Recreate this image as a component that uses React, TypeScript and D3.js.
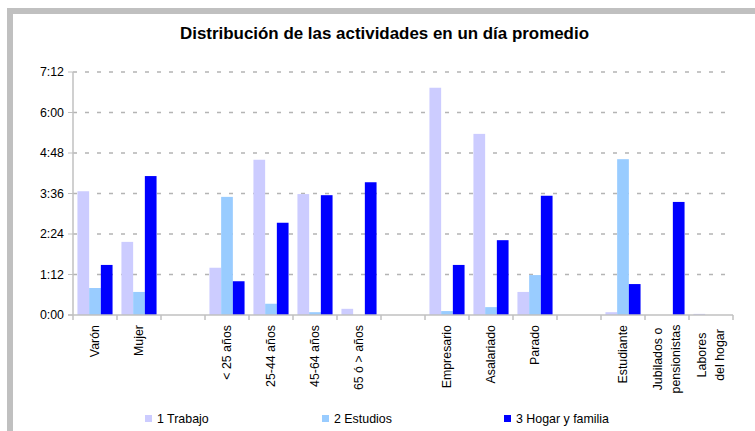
import React from "react";
import * as d3 from "d3";

const categories: string[][] = [
  ["Varón"], ["Mujer"], [""],
  ["< 25 años"], ["25-44 años"], ["45-64 años"], ["65 ó > años"], [""],
  ["Empresario"], ["Asalariado"], ["Parado"], [""],
  ["Estudiante"], ["Jubilados o", "pensionistas"], ["Labores", "del hogar"],
];
// minutes per day
const trabajo = [220, 130, 0, 84, 276, 215, 11, 0, 404, 322, 41, 0, 5, 0, 2];
const estudios = [48, 41, 0, 210, 20, 5, 0, 0, 7, 14, 71, 0, 277, 0, 0];
const hogar = [89, 247, 0, 60, 164, 213, 236, 0, 89, 133, 212, 0, 55, 201, 0];
const seriesNames = ["1 Trabajo", "2 Estudios", "3 Hogar y familia"];
const seriesColors = ["#CCCCFF", "#99CCFF", "#0000FF"];
const yTicks = [0, 72, 144, 216, 288, 360, 432];
const title = "Distribución de las actividades en un día promedio";

const W = 755, H = 431;
const left = 73, right = 733, top = 72, bottom = 315;

export default function App() {
  const series = [trabajo, estudios, hogar];
  const x = d3.scaleBand<number>().domain(categories.map((_, i) => i)).range([left, right]).padding(0);
  const xi = d3.scaleBand<number>().domain([0, 1, 2]).range([0, x.bandwidth()]).paddingInner(0).paddingOuter(0.38);
  const y = d3.scaleLinear().domain([0, 432]).range([bottom, top]);
  const fmt = (m: number) => `${Math.floor(m / 60)}:${String(m % 60).padStart(2, "0")}`;
  const font = "'Liberation Sans', Arial, sans-serif";
  const boundaries = d3.range(categories.length + 1).map((i) => left + i * x.step());
  const legendX = [145, 322, 504];
  const fs = 12.4;

  return (
    <svg width={W} height={H} style={{ position: "absolute", left: 0, top: 0 }} fontFamily={font}>
      <rect x={0} y={0} width={W} height={H} fill="#fff" />
      <rect x={7} y={8} width={W - 7} height={6} fill="#c0c0c0" />
      <rect x={7} y={8} width={6} height={H - 8} fill="#c0c0c0" />
      <text x={384.5} y={39} textAnchor="middle" fontSize={16.5} fontWeight="bold" fill="#000" textLength={409} lengthAdjust="spacingAndGlyphs">{title}</text>
      {yTicks.filter((t) => t > 0).map((t) => (
        <line key={"g" + t} x1={left} x2={right} y1={y(t)} y2={y(t)} stroke="#b4b4b4" strokeWidth={1.5} strokeDasharray="4,8" />
      ))}
      {yTicks.map((t) => (
        <g key={"t" + t}>
          <line x1={left - 5} x2={left} y1={y(t)} y2={y(t)} stroke="#c0c0c0" />
          <text x={64} y={y(t) + 4} textAnchor="end" fontSize={fs} fill="#000">{fmt(t)}</text>
        </g>
      ))}
      {series.map((vals, s) =>
        vals.map((v, i) =>
          v > 0 ? (
            <rect key={`b${s}-${i}`} x={(x(i) as number) + (xi(s) as number)} y={y(v)} width={xi.bandwidth()} height={bottom - y(v)} fill={seriesColors[s]} />
          ) : null
        )
      )}
      <line x1={left} x2={left} y1={top} y2={bottom} stroke="#c0c0c0" strokeWidth={1.5} />
      <line x1={left - 5} x2={right} y1={bottom} y2={bottom} stroke="#c0c0c0" strokeWidth={1.5} />
      {boundaries.map((bx, i) => (
        <line key={"xb" + i} x1={bx} x2={bx} y1={bottom} y2={bottom + 5} stroke="#c0c0c0" strokeWidth={1.5} />
      ))}
      {categories.map((lines, i) => {
        const cx = (x(i) as number) + x.bandwidth() / 2;
        if (lines.length === 1) {
          return (
            <text key={"l" + i} transform={`translate(${cx + 4},325) rotate(-90)`} textAnchor="end" fontSize={fs} fill="#000">{lines[0]}</text>
          );
        }
        const cy = i === 13 ? 359 : 355;
        return (
          <g key={"l" + i}>
            {lines.map((ln, k) => (
              <text key={k} transform={`translate(${cx - 9 + k * 18 + 4},${cy}) rotate(-90)`} textAnchor="middle" fontSize={fs} fill="#000">{ln}</text>
            ))}
          </g>
        );
      })}
      {seriesNames.map((n, s) => (
        <g key={"lg" + s}>
          <rect x={legendX[s]} y={415} width={7} height={7} fill={seriesColors[s]} />
          <text x={legendX[s] + 12} y={423} fontSize={fs} fill="#000">{n}</text>
        </g>
      ))}
    </svg>
  );
}
